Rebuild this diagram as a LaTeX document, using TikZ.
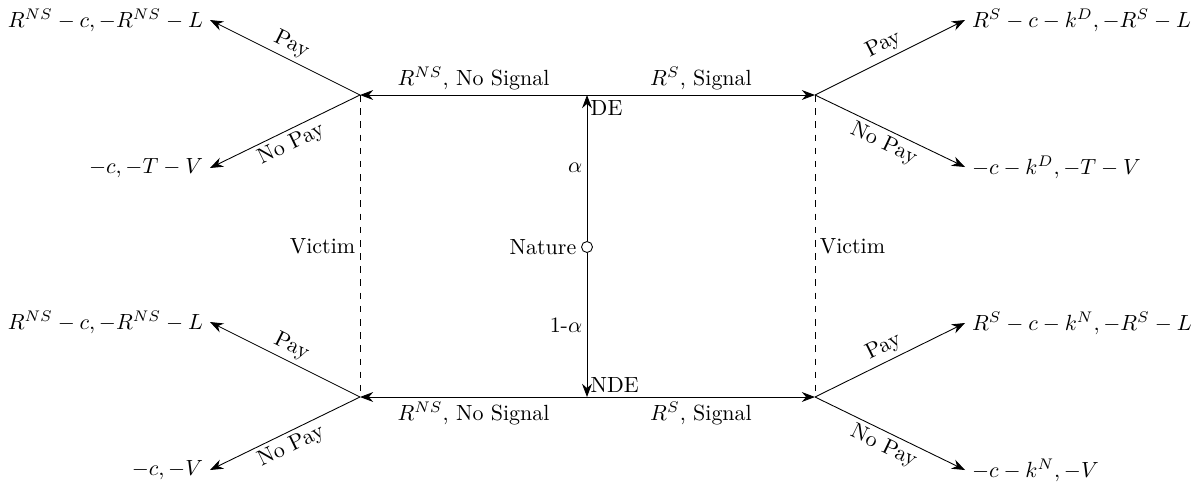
\documentclass[tikz,border=0pt]{standalone}
\usetikzlibrary{arrows.meta}
\begin{document}
\begin{tikzpicture}[x=0.016cm,y=-0.016cm,
  arr/.style={-{Stealth[length=6pt,width=4.5pt]},line width=0.4pt},
  leafl/.style={anchor=east,inner sep=3pt},
  leafr/.style={anchor=west,inner sep=3pt},
  lab/.style={inner sep=2pt},
  info/.style={dashed,line width=0.4pt}]
\useasboundingbox (0,0) rectangle (1194,487);
% decision points
\coordinate (TL) at (360,95);
\coordinate (TR) at (815,95);
\coordinate (BL) at (360,397);
\coordinate (BR) at (815,397);
\coordinate (DE) at (587,95);
\coordinate (NDE) at (587,397);
\node[circle,draw,fill=white,line width=0.4pt,inner sep=0pt,minimum size=5pt] (nat) at (587,247) {};
% leaves
\node[leafl] (l1) at (210,20) {$R^{NS}-c,-R^{NS}-L$};
\node[leafl] (l2) at (210,168) {$-c,-T-V$};
\node[leafl] (l3) at (210,322) {$R^{NS}-c,-R^{NS}-L$};
\node[leafl] (l4) at (210,470) {$-c,-V$};
\node[leafr] (r1) at (965,20) {$R^{S}-c-k^{D},-R^{S}-L$};
\node[leafr] (r2) at (965,167) {$-c-k^{D},-T-V$};
\node[leafr] (r3) at (965,323) {$R^{S}-c-k^{N},-R^{S}-L$};
\node[leafr] (r4) at (965,470) {$-c-k^{N},-V$};
% nature moves
\draw[arr] (nat) -- node[lab,left,pos=0.5] {$\alpha$} (DE);
\draw[arr] (nat) -- node[lab,left,pos=0.5] {1-$\alpha$} (NDE);
\node[anchor=west,inner sep=1pt] (deL) at ([xshift=0.5pt,yshift=-6pt]DE) {DE};
\node[anchor=west,inner sep=1pt] (ndeL) at ([xshift=0.5pt,yshift=5.5pt]NDE) {NDE};
\node[anchor=east,inner sep=2pt] (natL) at (nat.west) {Nature};
% sender moves
\draw[arr] (DE) -- node[lab,above] {$R^{NS}$, No Signal} (TL);
\draw[arr] (DE) -- node[lab,above] {$R^{S}$, Signal} (TR);
\draw[arr] (NDE) -- node[lab,below] {$R^{NS}$, No Signal} (BL);
\draw[arr] (NDE) -- node[lab,below] {$R^{S}$, Signal} (BR);
% information sets
\draw[info] (TL) -- node[lab,left] {Victim} (BL);
\draw[info] (TR) -- node[lab,right] {Victim} (BR);
% victim moves
\draw[arr] (TL) -- node[lab,above,sloped] {Pay} (l1.east);
\draw[arr] (TL) -- node[lab,below,sloped] {No Pay} (l2.east);
\draw[arr] (BL) -- node[lab,above,sloped] {Pay} (l3.east);
\draw[arr] (BL) -- node[lab,below,sloped] {No Pay} (l4.east);
\draw[arr] (TR) -- node[lab,above,sloped] {Pay} (r1.west);
\draw[arr] (TR) -- node[lab,below,sloped] {No Pay} (r2.west);
\draw[arr] (BR) -- node[lab,above,sloped] {Pay} (r3.west);
\draw[arr] (BR) -- node[lab,below,sloped] {No Pay} (r4.west);
\end{tikzpicture}
\end{document}
